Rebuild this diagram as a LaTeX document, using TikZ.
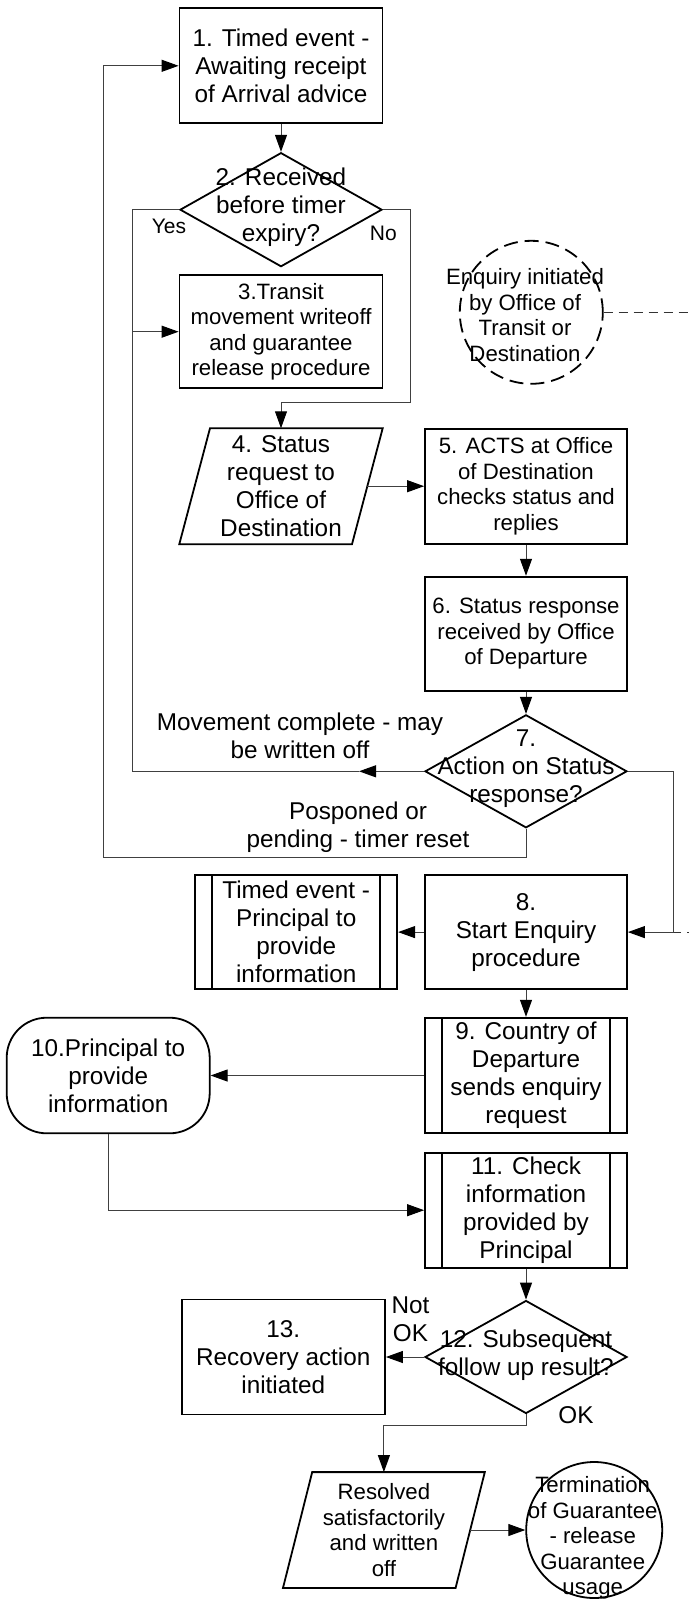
\documentclass[tikz,border=0pt]{standalone}
\usepackage{fontspec}
\setmainfont{Liberation Sans}
\usetikzlibrary{shapes.geometric, arrows.meta, calc}
\begin{document}
\begin{tikzpicture}[x=1pt, y=-1pt,
  shp/.style={draw=black, line width=1.8pt},
  con/.style={draw=black!75, line width=1pt},
  arr/.style={con, -{Triangle[length=17pt, width=12pt, black]}},
  dsh/.style={draw=black!80, line width=1pt, dash pattern=on 9pt off 6pt},
  big/.style={font=\fontsize{24.3}{28}\selectfont, align=center, inner sep=0pt},
  sml/.style={font=\fontsize{22.2}{25.5}\selectfont, align=center, inner sep=0pt},
  yn/.style={font=\fontsize{21}{24}\selectfont, inner sep=0pt},
  rbox/.style={shp, rectangle, minimum width=202pt, minimum height=115pt, inner sep=0pt},
  pre/.style={rbox, path picture={\draw[line width=1.8pt]
      ([xshift=17pt]path picture bounding box.south west) -- ([xshift=17pt]path picture bounding box.north west)
      ([xshift=-17pt]path picture bounding box.south east) -- ([xshift=-17pt]path picture bounding box.north east);}},
  dia/.style={shp, diamond, inner sep=0pt, minimum width=202pt, minimum height=113pt},
  para/.style={rectangle, draw=none, minimum width=172.3pt, minimum height=115.5pt, inner sep=0pt},
  term/.style={rbox, rounded corners=40pt}
]
\path[use as bounding box, fill=white] (0,0) rectangle (688,1600);

% ---------- left column ----------
\node[rbox, big, minimum width=203pt] (n1) at (281,65.8) {1. Timed event -\\Awaiting receipt\\of Arrival advice};

\node[dia, minimum height=114pt] (d2) at (281,209.7) {};
\node[big] (d2t) at (281,207.5) {2. Received\\before timer\\expiry?};

\node[rbox, sml, minimum width=203pt, minimum height=113.3pt] (n3) at (281,331.7) {3.Transit\\movement writeoff\\and guarantee\\release procedure};

\node[para, big] (p4) at (281,486.2) {4. Status\\request to\\Office of\\Destination};
\draw[shp] ([xshift=15.35pt]p4.north west) -- ([xshift=15.35pt]p4.north east)
  -- ([xshift=-15.35pt]p4.south east) -- ([xshift=-15.35pt]p4.south west) -- cycle;

% ---------- right column ----------
\node[shp, circle, dash pattern=on 14pt off 7pt, minimum size=143pt, inner sep=0pt] (c16) at (531.3,312.3) {};
\node[sml] (c16t) at (525,315) {Enquiry initiated\\by Office of\\Transit or\\Destination};

\node[rbox, sml] (n5) at (526,486.2) {5. ACTS at Office\\of Destination\\checks status and\\replies};
\node[rbox, sml, minimum height=114.3pt] (n6) at (526,633.8) {6. Status response\\received by Office\\of Departure};

\node[dia] (d7) at (526,771.3) {};
\node[big] (d7t) at (526,769) {7.\\Action on Status\\response?};

\node[rbox, big, minimum height=114.3pt] (n8) at (526,932.1) {8.\\Start Enquiry\\procedure};
\node[pre, big, minimum height=114.3pt] (te) at (296.2,932.1) {Timed event -\\Principal to\\provide\\information};

\node[pre, big, minimum height=115.6pt] (n9) at (526,1075.5) {9. Country of\\Departure\\sends enquiry\\request};
\node[term, big, minimum width=203pt, minimum height=115.6pt] (t10) at (108.2,1075.5) {10.Principal to\\provide\\information};

\node[pre, big] (n11) at (526,1210.2) {11. Check\\information\\provided by\\Principal};

\node[dia] (d12) at (526,1357) {};
\node[big] (d12t) at (526,1355) {12. Subsequent\\follow up result?};

\node[rbox, big, minimum width=203.4pt] (n13) at (283.3,1357) {13.\\Recovery action\\initiated};

\node[para, sml, minimum width=172.2pt, minimum height=115.4pt] (p14) at (383.9,1530) {Resolved\\satisfactorily\\and written\\off};
\draw[shp] ([xshift=14.6pt]p14.north west) -- ([xshift=14.6pt]p14.north east)
  -- ([xshift=-14.6pt]p14.south east) -- ([xshift=-14.6pt]p14.south west) -- cycle;

\node[shp, circle, minimum size=136pt, inner sep=0pt] (c15) at (594.2,1530) {};
\node[sml] (c15t) at (592.7,1538) {Termination\\of Guarantee\\- release\\Guarantee\\usage};

% ---------- labels ----------
\node[yn] (lyes) at (169,226) {Yes};
\node[yn] (lno) at (383.3,233) {No};
\node[big] (lmov) at (300,736) {Movement complete - may\\be written off};
\node[big] (lpos) at (358,827) {Posponed or\\pending - timer reset};
\node[big] (lnot) at (410.5,1319) {Not\\OK};
\node[big] (lok) at (576,1415) {OK};

% ---------- connectors ----------
\draw[arr] (n1.south) -- (d2.north);
\draw[arr] (d2.west) -- ++(-46.7,0) coordinate (jy) |- (n3.west);
\draw[arr] (d2.east) -| ($(d2.east)+(28,192.6)$) -| (p4.north);
\draw[arr] (p4.east) -- (n5.west);
\draw[arr] (n5.south) -- (n6.north);
\draw[arr] (n6.south) -- (d7.north);
\coordinate (m7) at (359,771.3);
\draw[arr] (d7.west) -- (m7);
\draw[con] (m7) -| (jy |- n3.west);
\draw[arr] (d7.south) -- ++(0,29) -| ($(n1.west)+(-75.2,0)$) -- (n1.west);
\coordinate (j8) at (673.5,932.1);
\draw[arr] (d7.east) -| (j8) -- (n8.east);
\draw[dsh] (c16.east) -- (700,312.3) |- (j8);
\draw[arr] (n8.west) -- (te.east);
\draw[arr] (n8.south) -- (n9.north);
\draw[arr] (n9.west) -- (t10.east);
\draw[arr] (t10.south) |- (n11.west);
\draw[arr] (n11.south) -- (d12.north);
\draw[arr] (d12.west) -- (n13.east);
\draw[arr] (d12.south) -- ++(0,11) -| (p14.north);
\draw[arr] (p14.east) -- (c15.west);
\end{tikzpicture}
\end{document}
